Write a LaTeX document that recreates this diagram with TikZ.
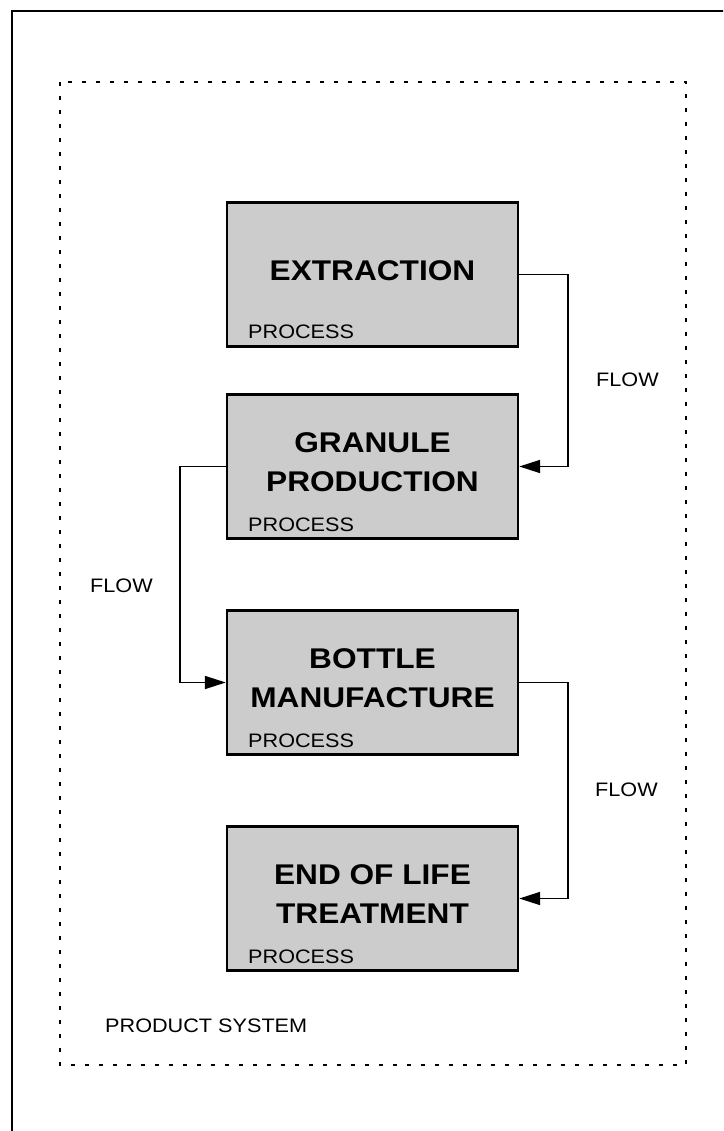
\documentclass[tikz,border=0pt]{standalone}
\usepackage{fontspec}
\setmainfont[FakeStretch=1.11]{Liberation Sans}
\usetikzlibrary{arrows.meta}
\definecolor{boxgray}{RGB}{204,204,204}
\begin{document}
\begin{tikzpicture}[x=1pt,y=-1pt,
  procbox/.style={draw=black, line width=2.4pt, fill=boxgray, minimum width=291pt, minimum height=144pt, inner sep=0pt},
  title/.style={font=\fontsize{28.5}{39}\selectfont\bfseries, align=center, inner sep=0pt},
  small/.style={font=\fontsize{19.5}{23}\selectfont, inner sep=0pt, anchor=base west},
  flow/.style={line width=1.8pt, -{Triangle[length=21pt,width=13pt]}},
  sysborder/.style={line width=2.4pt, dash pattern=on 4pt off 10pt},
]
\useasboundingbox (0,0) rectangle (723,1131);
\begin{scope}
  \clip (0,0) rectangle (723,1131);
  \draw[line width=2.8pt] (12,1140) -- (12,11) -- (730,11);
\end{scope}
\draw[sysborder] (60,82) rectangle (686,1065);

\node[procbox] (b1) at (372.5,274.5) {};
\node[procbox] (b2) at (372.5,466.5) {};
\node[procbox] (b3) at (372.5,682.5) {};
\node[procbox] (b4) at (372.5,898.5) {};

\node[title] (t1) at (372.5,270.5) {EXTRACTION};
\node[title] (t2) at (372.5,462.5) {GRANULE\\PRODUCTION};
\node[title] (t3) at (372.5,678) {BOTTLE\\MANUFACTURE};
\node[title] (t4) at (372.5,894.5) {END OF LIFE\\TREATMENT};

\node[small] (p1) at (248,338) {PROCESS};
\node[small] (p2) at (248,531) {PROCESS};
\node[small] (p3) at (248,747) {PROCESS};
\node[small] (p4) at (248,963) {PROCESS};

\node[small] (f1) at (596,386.5) {FLOW};
\node[small] (f2) at (90,592) {FLOW};
\node[small] (f3) at (595,796) {FLOW};
\node[small] (ps) at (105,1032) {PRODUCT SYSTEM};

\draw[flow] (b1.east) -- ++(49,0) |- (b2.east);
\draw[flow] (b2.west) -- ++(-46,0) |- (b3.west);
\draw[flow] (b3.east) -- ++(49,0) |- (b4.east);
\end{tikzpicture}
\end{document}
